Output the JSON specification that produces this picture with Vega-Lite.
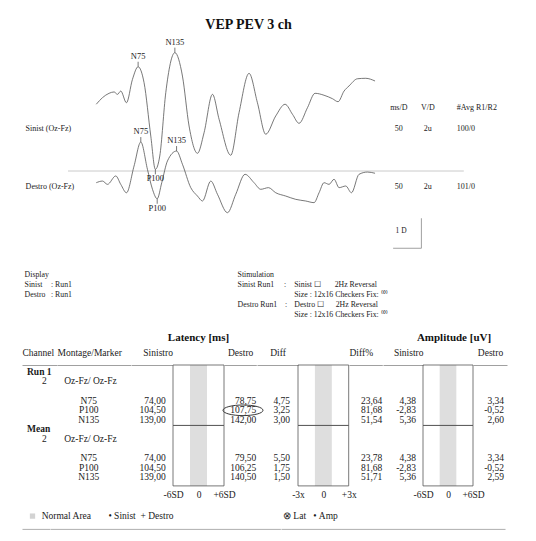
{
 "$schema": "https://vega.github.io/schema/vega-lite/v6.json",
 "background": "white",
 "padding": {"left": 22, "top": 17, "right": 2, "bottom": 2},
 "spacing": 0,
 "config": {
  "view": {"stroke": null},
  "font": "Liberation Serif",
  "text": {"font": "Liberation Serif", "color": "#1a1a1a"},
  "axis": {"labelFont": "Liberation Serif", "titleFont": "Liberation Serif", "grid": false},
  "title": {"font": "Liberation Serif", "color": "#111"}
 },
 "datasets": {
  "channels": [
   {"channel": "Sinist (Oz-Fz)", "offset": 8.83, "msD": "50", "VD": "2u", "avg": "100/0"},
   {"channel": "Destro (Oz-Fz)", "offset": 4.93, "msD": "50", "VD": "2u", "avg": "101/0"}
  ],
  "infoCols": [{"col": "ms/D"}, {"col": "V/D"}, {"col": "#Avg R1/R2"}],
  "traces": [
   {"channel":"Sinist","t":0,"v":10.45},{"channel":"Sinist","t":11,"v":10.89},{"channel":"Sinist","t":22.6,"v":11.18},{"channel":"Sinist","t":31.5,"v":11.27},{"channel":"Sinist","t":37.5,"v":11.11},{"channel":"Sinist","t":43.3,"v":11.33},{"channel":"Sinist","t":53.4,"v":10.55},{"channel":"Sinist","t":64,"v":12.11},{"channel":"Sinist","t":74,"v":12.95},{"channel":"Sinist","t":84.5,"v":11.89},{"channel":"Sinist","t":96.4,"v":8.33},{"channel":"Sinist","t":104.5,"v":6.11},{"channel":"Sinist","t":112.3,"v":7.0},{"channel":"Sinist","t":122.9,"v":11.22},{"channel":"Sinist","t":139,"v":13.89},{"channel":"Sinist","t":152.4,"v":12.33},{"channel":"Sinist","t":164.1,"v":9.0},{"channel":"Sinist","t":179,"v":7.18},{"channel":"Sinist","t":190.6,"v":8.55},{"channel":"Sinist","t":205.5,"v":11.11},{"channel":"Sinist","t":217.2,"v":9.45},{"channel":"Sinist","t":237.8,"v":7.05},{"channel":"Sinist","t":252.5,"v":9.89},{"channel":"Sinist","t":270.2,"v":12.51},{"channel":"Sinist","t":285,"v":10.55},{"channel":"Sinist","t":299.7,"v":8.45},{"channel":"Sinist","t":317.4,"v":9.67},{"channel":"Sinist","t":333.9,"v":10.45},{"channel":"Sinist","t":347,"v":9.78},{"channel":"Sinist","t":358.6,"v":9.18},{"channel":"Sinist","t":373.5,"v":10.22},{"channel":"Sinist","t":386.9,"v":11.18},{"channel":"Sinist","t":402.8,"v":11.05},{"channel":"Sinist","t":417.7,"v":10.82},{"channel":"Sinist","t":427.6,"v":10.62},{"channel":"Sinist","t":438.2,"v":11.33},{"channel":"Sinist","t":447,"v":11.67},{"channel":"Sinist","t":461.9,"v":12.15},{"channel":"Sinist","t":476.6,"v":12.18},{"channel":"Sinist","t":493,"v":12.0},
   {"channel":"Destro","t":0,"v":5.22},{"channel":"Destro","t":11,"v":5.33},{"channel":"Destro","t":19.8,"v":5.11},{"channel":"Destro","t":34.5,"v":5.67},{"channel":"Destro","t":43.3,"v":5.11},{"channel":"Destro","t":53.4,"v":4.55},{"channel":"Destro","t":66.8,"v":6.33},{"channel":"Destro","t":78.75,"v":7.93},{"channel":"Destro","t":90.5,"v":6.11},{"channel":"Destro","t":99.4,"v":4.78},{"channel":"Destro","t":107.75,"v":4.15},{"channel":"Destro","t":115.8,"v":5.22},{"channel":"Destro","t":125.9,"v":6.67},{"channel":"Destro","t":142,"v":7.33},{"channel":"Destro","t":152.4,"v":6.45},{"channel":"Destro","t":167.1,"v":4.89},{"channel":"Destro","t":179,"v":4.33},{"channel":"Destro","t":187.8,"v":4.0},{"channel":"Destro","t":202.5,"v":5.33},{"channel":"Destro","t":214.3,"v":4.45},{"channel":"Destro","t":232,"v":3.22},{"channel":"Destro","t":246.7,"v":4.45},{"channel":"Destro","t":263.1,"v":5.78},{"channel":"Destro","t":279,"v":5.22},{"channel":"Destro","t":290.9,"v":4.78},{"channel":"Destro","t":304.5,"v":4.89},{"channel":"Destro","t":317.4,"v":4.55},{"channel":"Destro","t":335.1,"v":4.33},{"channel":"Destro","t":352.8,"v":4.11},{"channel":"Destro","t":370.5,"v":4.0},{"channel":"Destro","t":385.1,"v":3.89},{"channel":"Destro","t":394,"v":4.55},{"channel":"Destro","t":402.8,"v":5.22},{"channel":"Destro","t":411.7,"v":5.11},{"channel":"Destro","t":420.5,"v":5.45},{"channel":"Destro","t":429.4,"v":4.89},{"channel":"Destro","t":441.2,"v":5.0},{"channel":"Destro","t":451.3,"v":4.55},{"channel":"Destro","t":464.7,"v":5.78},{"channel":"Destro","t":479.6,"v":5.93},{"channel":"Destro","t":493,"v":5.85}
  ],
  "peaks": [
   {"channel": "Sinist", "peak": "N75", "latency": 74, "v": 12.95},
   {"channel": "Sinist", "peak": "P100", "latency": 104.5, "v": 6.11},
   {"channel": "Sinist", "peak": "N135", "latency": 139, "v": 13.89},
   {"channel": "Destro", "peak": "N75", "latency": 78.75, "v": 7.93},
   {"channel": "Destro", "peak": "P100", "latency": 107.75, "v": 4.15},
   {"channel": "Destro", "peak": "N135", "latency": 142, "v": 7.33}
  ],
  "display": [
   {"row": "h", "k": "Display"},
   {"row": "1", "k": "Sinist", "v": ": Run1"},
   {"row": "2", "k": "Destro", "v": ": Run1"}
  ],
  "stim": [
   {"row": "h", "k": "Stimulation"},
   {"row": "1", "k": "Sinist Run1\u00a0\u00a0\u00a0\u00a0\u00a0:", "d": "Sinist\u00a0☐\u00a0\u00a0\u00a0\u00a0\u00a0\u00a0\u00a02Hz Reversal"},
   {"row": "2", "d": "Size : 12x16 Checkers Fix: ⁽⁰⁾"},
   {"row": "3", "k": "Destro Run1\u00a0\u00a0\u00a0\u00a0:", "d": "Destro\u00a0☐\u00a0\u00a0\u00a0\u00a0\u00a0\u00a02Hz Reversal"},
   {"row": "4", "d": "Size : 12x16 Checkers Fix: ⁽⁰⁾"}
  ],
  "table": [
   {"row": "r1s", "sec": "Run 1"},
   {"row": "r1m", "ch": "2", "montage": "Oz-Fz/ Oz-Fz"},
   {"row": "r1a", "marker": "N75", "latS": "74,00", "latD": "78,75", "diff": "4,75", "diffPct": "23,64", "ampS": "4,38", "ampD": "3,34"},
   {"row": "r1b", "marker": "P100", "latS": "104,50", "latD": "107,75", "diff": "3,25", "diffPct": "81,68", "ampS": "-2,83", "ampD": "-0,52", "flag": true},
   {"row": "r1c", "marker": "N135", "latS": "139,00", "latD": "142,00", "diff": "3,00", "diffPct": "51,54", "ampS": "5,36", "ampD": "2,60"},
   {"row": "ms", "sec": "Mean"},
   {"row": "mm", "ch": "2", "montage": "Oz-Fz/ Oz-Fz"},
   {"row": "ma", "marker": "N75", "latS": "74,00", "latD": "79,50", "diff": "5,50", "diffPct": "23,78", "ampS": "4,38", "ampD": "3,34"},
   {"row": "mb", "marker": "P100", "latS": "104,50", "latD": "106,25", "diff": "1,75", "diffPct": "81,68", "ampS": "-2,83", "ampD": "-0,52"},
   {"row": "mc", "marker": "N135", "latS": "139,00", "latD": "140,50", "diff": "1,50", "diffPct": "51,71", "ampS": "5,36", "ampD": "2,59"}
  ],
  "sections": [{"section": "Run 1"}, {"section": "Mean"}],
  "legendItems": [
   {"group": "area", "text": "Normal Area"},
   {"group": "eye", "text": "•\u00a0Sinist\u00a0\u00a0+\u00a0Destro"},
   {"group": "marker", "text": "⊗\u00a0Lat\u00a0\u00a0\u00a0•\u00a0Amp"}
  ]
 },
 "vconcat": [
  {
   "hconcat": [
    {
     "width": 45.2, "height": 216,
     "data": {"name": "channels"},
     "mark": {"type": "text", "align": "left", "baseline": "middle", "fontSize": 8},
     "encoding": {
      "x": {"datum": "label", "type": "nominal", "scale": {"type": "point", "domain": ["label"], "padding": 0, "align": 0.08}, "axis": null},
      "y": {"field": "offset", "type": "quantitative", "scale": {"domain": [0, 14.4], "nice": false, "zero": false}, "axis": null},
      "text": {"field": "channel"}
     }
    },
    {
     "width": 311, "height": 216,
     "title": {"text": "VEP  PEV 3 ch", "anchor": "middle", "dx": 25, "offset": 6, "fontSize": 14, "fontWeight": "bold", "font": "Liberation Serif", "color": "#111"},
     "layer": [
      {"data": {"values": [{}]}, "mark": {"type": "rule", "color": "#bdbdbd", "strokeWidth": 0.8},
       "encoding": {"y": {"datum": 6, "type": "quantitative", "scale": {"domain": [0, 14.4], "nice": false, "zero": false}, "axis": null}}},
      {"data": {"name": "traces"}, "mark": {"type": "line", "color": "#555", "strokeWidth": 0.8, "interpolate": "monotone"},
       "encoding": {
        "x": {"field": "t", "type": "quantitative", "scale": {"domain": [-50, 500], "nice": false, "zero": false}, "axis": null},
        "y": {"field": "v", "type": "quantitative", "scale": {"domain": [0, 14.4], "nice": false, "zero": false}, "axis": null},
        "detail": {"field": "channel"}
       }},
      {"data": {"name": "peaks"}, "transform": [{"filter": "datum.peak != 'P100'"}],
       "mark": {"type": "point", "shape": "M0,0L0,-1", "size": 100, "filled": false, "color": "#555", "strokeWidth": 0.8, "opacity": 1},
       "encoding": {"x": {"field": "latency", "type": "quantitative"}, "y": {"field": "v", "type": "quantitative"}}},
      {"data": {"name": "peaks"}, "transform": [{"filter": "datum.peak == 'P100'"}],
       "mark": {"type": "point", "shape": "M0,0L0,1", "size": 100, "filled": false, "color": "#555", "strokeWidth": 0.8, "opacity": 1},
       "encoding": {"x": {"field": "latency", "type": "quantitative"}, "y": {"field": "v", "type": "quantitative"}}},
      {"data": {"name": "peaks"}, "transform": [{"filter": "datum.peak != 'P100'"}],
       "mark": {"type": "text", "baseline": "alphabetic", "dy": -8, "fontSize": 8.5},
       "encoding": {"x": {"field": "latency", "type": "quantitative"}, "y": {"field": "v", "type": "quantitative"}, "text": {"field": "peak"}}},
      {"data": {"name": "peaks"}, "transform": [{"filter": "datum.peak == 'P100'"}],
       "mark": {"type": "text", "baseline": "top", "dy": 5, "fontSize": 8.5},
       "encoding": {"x": {"field": "latency", "type": "quantitative"}, "y": {"field": "v", "type": "quantitative"}, "text": {"field": "peak"}}}
     ]
    },
    {
     "width": 84.8, "height": 216,
     "layer": [
      {"data": {"values": [{}]}, "mark": {"type": "rule", "color": "#bdbdbd", "strokeWidth": 0.8},
       "encoding": {"y": {"datum": 6, "type": "quantitative", "scale": {"domain": [0, 14.4], "nice": false, "zero": false}, "axis": null}}},
      {
       "layer": [
        {"data": {"name": "infoCols"}, "transform": [{"filter": "datum.col != '#Avg R1/R2'"}],
         "mark": {"type": "text", "align": "center", "fontSize": 8},
         "encoding": {
          "x": {"field": "col", "type": "nominal", "scale": {"type": "point", "domain": ["ms/D", "V/D", "#Avg R1/R2"], "padding": 0.462, "align": 0.739}, "axis": null},
          "y": {"datum": 10.2, "type": "quantitative"},
          "text": {"field": "col"}
         }},
        {"data": {"name": "infoCols"}, "transform": [{"filter": "datum.col == '#Avg R1/R2'"}],
         "mark": {"type": "text", "align": "left", "fontSize": 8},
         "encoding": {"x": {"field": "col", "type": "nominal"}, "y": {"datum": 10.2, "type": "quantitative"}, "text": {"field": "col"}}},
        {"data": {"name": "channels"}, "mark": {"type": "text", "align": "center", "fontSize": 8},
         "encoding": {"x": {"datum": "ms/D", "type": "nominal"}, "y": {"field": "offset", "type": "quantitative"}, "text": {"field": "msD"}}},
        {"data": {"name": "channels"}, "mark": {"type": "text", "align": "center", "fontSize": 8},
         "encoding": {"x": {"datum": "V/D", "type": "nominal"}, "y": {"field": "offset", "type": "quantitative"}, "text": {"field": "VD"}}},
        {"data": {"name": "channels"}, "mark": {"type": "text", "align": "left", "fontSize": 8},
         "encoding": {"x": {"datum": "#Avg R1/R2", "type": "nominal"}, "y": {"field": "offset", "type": "quantitative"}, "text": {"field": "avg"}}}
       ]
      },
      {
       "data": {"values": [{}]},
       "layer": [
        {"mark": {"type": "rule", "color": "#888", "strokeWidth": 0.8},
         "encoding": {"x": {"datum": 575, "type": "quantitative", "scale": {"domain": [500, 650], "nice": false, "zero": false}, "axis": null},
                      "y": {"datum": 0.85, "type": "quantitative"}, "y2": {"datum": 2.85}}},
        {"mark": {"type": "rule", "color": "#888", "strokeWidth": 0.8},
         "encoding": {"x": {"datum": 525, "type": "quantitative"}, "x2": {"datum": 575}, "y": {"datum": 0.85, "type": "quantitative"}}},
        {"mark": {"type": "text", "fontSize": 7.5, "align": "center"},
         "encoding": {"x": {"datum": 539, "type": "quantitative"}, "y": {"datum": 2.0, "type": "quantitative"}, "text": {"value": "1 D"}}}
       ]
      }
     ],
     "resolve": {"scale": {"x": "independent"}}
    }
   ],
   "spacing": 0, "bounds": "flush"
  },
  {
   "hconcat": [
    {
     "width": 38, "height": 69.3,
     "data": {"name": "display"},
     "encoding": {"y": {"field": "row", "type": "nominal", "scale": {"type": "band", "domain": ["h", "1", "2", "3", "4"], "paddingInner": 0, "paddingOuter": 1, "align": 0.457}, "axis": null}},
     "layer": [
      {"transform": [{"filter": "isValid(datum.k)"}], "mark": {"type": "text", "align": "left", "fontSize": 7.8},
       "encoding": {"x": {"datum": "k", "type": "nominal", "scale": {"type": "point", "domain": ["k", "v"], "padding": 0.22, "align": 0.224}, "axis": null}, "text": {"field": "k"}}},
      {"transform": [{"filter": "isValid(datum.v)"}], "mark": {"type": "text", "align": "left", "fontSize": 7.8},
       "encoding": {"x": {"datum": "v", "type": "nominal"}, "text": {"field": "v"}}}
     ]
    },
    {
     "width": 170, "height": 69.3,
     "data": {"name": "stim"},
     "encoding": {"y": {"field": "row", "type": "nominal", "scale": {"type": "band", "domain": ["h", "1", "2", "3", "4"], "paddingInner": 0, "paddingOuter": 1, "align": 0.457}, "axis": null}},
     "layer": [
      {"transform": [{"filter": "isValid(datum.k)"}], "mark": {"type": "text", "align": "left", "fontSize": 7.8},
       "encoding": {"x": {"datum": "k", "type": "nominal", "scale": {"type": "point", "domain": ["k", "d"], "padding": 1, "align": 0.0053}, "axis": null}, "text": {"field": "k"}}},
      {"transform": [{"filter": "isValid(datum.d)"}], "mark": {"type": "text", "align": "left", "fontSize": 7.8},
       "encoding": {"x": {"datum": "d", "type": "nominal"}, "text": {"field": "d"}}}
     ]
    }
   ],
   "spacing": 177, "bounds": "flush"
  },
  {
   "hconcat": [
    {
     "width": 34.8, "height": 120.9,
     "data": {"name": "table"},
     "encoding": {"y": {"field": "row", "type": "nominal", "scale": {"type": "band", "domain": ["r1s","r1m","r1g","r1a","r1b","r1c","ms","mm","mg","ma","mb","mc"], "paddingInner": 0, "paddingOuter": 0.297, "align": 0.368}, "axis": null}},
     "layer": [
      {"transform": [{"filter": "isValid(datum.sec)"}], "mark": {"type": "text", "align": "left", "fontSize": 9.5, "fontWeight": "bold"},
       "encoding": {"x": {"datum": "sec", "type": "nominal", "scale": {"type": "point", "domain": ["sec", "ch"], "padding": 0.5, "align": 0.287},
         "axis": {"orient": "top", "title": "Channel", "titleAnchor": "start", "titleAlign": "left", "titleFontWeight": "normal", "titleFontSize": 9.5, "titleColor": "#1a1a1a", "titlePadding": 7.5, "labels": false, "ticks": false, "domain": true, "domainColor": "#888", "domainWidth": 0.8, "grid": false}},
        "text": {"field": "sec"}}},
      {"transform": [{"filter": "isValid(datum.ch)"}], "mark": {"type": "text", "align": "center", "fontSize": 9.5},
       "encoding": {"x": {"datum": "ch", "type": "nominal"}, "text": {"field": "ch"}}}
     ]
    },
    {
     "width": 73.5, "height": 120.9,
     "data": {"name": "table"},
     "encoding": {"y": {"field": "row", "type": "nominal", "scale": {"type": "band", "domain": ["r1s","r1m","r1g","r1a","r1b","r1c","ms","mm","mg","ma","mb","mc"], "paddingInner": 0, "paddingOuter": 0.297, "align": 0.368}, "axis": null}},
     "layer": [
      {"transform": [{"filter": "isValid(datum.montage)"}], "mark": {"type": "text", "align": "left", "fontSize": 9.5},
       "encoding": {"x": {"datum": "montage", "type": "nominal", "scale": {"type": "point", "domain": ["montage", "marker"], "padding": 1, "align": 0.147},
         "axis": {"orient": "top", "title": "Montage/Marker", "titleAnchor": "start", "titleAlign": "left", "titleFontWeight": "normal", "titleFontSize": 9.5, "titleColor": "#1a1a1a", "titlePadding": 7.5, "labels": false, "ticks": false, "domain": true, "domainColor": "#888", "domainWidth": 0.8, "grid": false}},
        "text": {"field": "montage"}}},
      {"transform": [{"filter": "isValid(datum.marker)"}], "mark": {"type": "text", "align": "center", "fontSize": 9.5},
       "encoding": {"x": {"datum": "marker", "type": "nominal"}, "text": {"field": "marker"}}}
     ]
    },
    {
     "width": 41.4, "height": 120.9,
     "data": {"name": "table"},
     "transform": [{"filter": "isValid(datum.latS)"}],
     "mark": {"type": "text", "align": "right", "fontSize": 9.5},
     "encoding": {
      "x": {"datum": "latS", "type": "nominal", "scale": {"type": "point", "domain": ["latS"], "padding": 0, "align": 0.838},
        "axis": {"orient": "top", "title": "Sinistro", "titleAnchor": "end", "titleAlign": "right", "titleFontWeight": "normal", "titleFontSize": 9.5, "titleColor": "#1a1a1a", "titlePadding": 7.5, "labels": false, "ticks": false, "domain": true, "domainColor": "#888", "domainWidth": 0.8, "grid": false}},
      "y": {"field": "row", "type": "nominal", "scale": {"type": "band", "domain": ["r1s","r1m","r1g","r1a","r1b","r1c","ms","mm","mg","ma","mb","mc"], "paddingInner": 0, "paddingOuter": 0.297, "align": 0.368}, "axis": null},
      "text": {"field": "latS"}
     }
    },
    {
     "width": 51, "height": 120.9,
     "data": {"name": "sections"},
     "title": {"text": "Latency [ms]", "anchor": "middle", "offset": 22, "fontSize": 11, "fontWeight": "bold", "font": "Liberation Serif", "color": "#111"},
     "encoding": {"y": {"field": "section", "type": "nominal", "scale": {"type": "band", "domain": ["Run 1", "Mean"], "paddingInner": 0, "paddingOuter": 0}, "axis": null}},
     "layer": [
      {"mark": {"type": "rect", "color": "#dedede"},
       "encoding": {"x": {"datum": -2, "type": "quantitative", "scale": {"domain": [-6, 6], "nice": false, "zero": false},
         "axis": {"orient": "bottom", "values": [-6, 0, 6], "tickCount": 5, "labelExpr": "(datum.value > 0 ? '+' : '') + datum.value + (datum.value == 0 ? '' : 'SD')", "domain": false, "ticks": false, "grid": false, "title": null, "labelPadding": 4, "labelFontSize": 9.5, "labelColor": "#1a1a1a", "labelFlush": false, "labelOverlap": false}},
        "x2": {"datum": 2}}},
      {"mark": {"type": "rect", "fill": "white", "fillOpacity": 0, "stroke": "#555", "strokeWidth": 0.8},
       "encoding": {"x": {"datum": -6, "type": "quantitative"}, "x2": {"datum": 6}}}
     ]
    },
    {
     "width": 32.3, "height": 120.9,
     "data": {"name": "table"},
     "encoding": {
      "x": {"datum": "latD", "type": "nominal", "scale": {"type": "point", "domain": ["latD"], "padding": 0, "align": 1},
        "axis": {"orient": "top", "title": "Destro", "titleAnchor": "middle", "titleAlign": "center", "titleFontWeight": "normal", "titleFontSize": 9.5, "titleColor": "#1a1a1a", "titlePadding": 7.5, "labels": false, "ticks": false, "domain": true, "domainColor": "#888", "domainWidth": 0.8, "grid": false}},
      "y": {"field": "row", "type": "nominal", "scale": {"type": "band", "domain": ["r1s","r1m","r1g","r1a","r1b","r1c","ms","mm","mg","ma","mb","mc"], "paddingInner": 0, "paddingOuter": 0.297, "align": 0.368}, "axis": null}
     },
     "layer": [
      {"transform": [{"filter": "isValid(datum.latD)"}], "mark": {"type": "text", "align": "right", "fontSize": 9.5},
       "encoding": {"text": {"field": "latD"}}},
      {"transform": [{"filter": "datum.flag === true"}],
       "mark": {"type": "point", "shape": "M-1.665,0A1,0.265,0,1,1,0.335,0A1,0.265,0,1,1,-1.665,0Z", "size": 1600, "filled": false, "color": "#222", "strokeWidth": 0.9, "opacity": 1},
       "encoding": {}}
     ]
    },
    {
     "width": 41, "height": 120.9,
     "data": {"name": "table"},
     "transform": [{"filter": "isValid(datum.diff)"}],
     "mark": {"type": "text", "align": "right", "fontSize": 9.5},
     "encoding": {
      "x": {"datum": "diff", "type": "nominal", "scale": {"type": "point", "domain": ["diff"], "padding": 0, "align": 0.805},
        "axis": {"orient": "top", "title": "Diff", "titleAnchor": "middle", "titleAlign": "center", "titleFontWeight": "normal", "titleFontSize": 9.5, "titleColor": "#1a1a1a", "titlePadding": 7.5, "labels": false, "ticks": false, "domain": true, "domainColor": "#888", "domainWidth": 0.8, "grid": false}},
      "y": {"field": "row", "type": "nominal", "scale": {"type": "band", "domain": ["r1s","r1m","r1g","r1a","r1b","r1c","ms","mm","mg","ma","mb","mc"], "paddingInner": 0, "paddingOuter": 0.297, "align": 0.368}, "axis": null},
      "text": {"field": "diff"}
     }
    },
    {
     "width": 50.7, "height": 120.9,
     "data": {"name": "sections"},
     "encoding": {"y": {"field": "section", "type": "nominal", "scale": {"type": "band", "domain": ["Run 1", "Mean"], "paddingInner": 0, "paddingOuter": 0}, "axis": null}},
     "layer": [
      {"mark": {"type": "rect", "color": "#dedede"},
       "encoding": {"x": {"datum": -1, "type": "quantitative", "scale": {"domain": [-3, 3], "nice": false, "zero": false},
         "axis": {"orient": "bottom", "values": [-3, 0, 3], "tickCount": 5, "labelExpr": "(datum.value > 0 ? '+' : '') + datum.value + (datum.value == 0 ? '' : 'x')", "domain": false, "ticks": false, "grid": false, "title": null, "labelPadding": 4, "labelFontSize": 9.5, "labelColor": "#1a1a1a", "labelFlush": false, "labelOverlap": false}},
        "x2": {"datum": 1}}},
      {"mark": {"type": "rect", "fill": "white", "fillOpacity": 0, "stroke": "#555", "strokeWidth": 0.8},
       "encoding": {"x": {"datum": -3, "type": "quantitative"}, "x2": {"datum": 3}}}
     ]
    },
    {
     "width": 33.3, "height": 120.9,
     "data": {"name": "table"},
     "transform": [{"filter": "isValid(datum.diffPct)"}],
     "mark": {"type": "text", "align": "right", "fontSize": 9.5},
     "encoding": {
      "x": {"datum": "diffPct", "type": "nominal", "scale": {"type": "point", "domain": ["diffPct"], "padding": 0, "align": 1},
        "axis": {"orient": "top", "title": "Diff%", "titleAnchor": "start", "titleAlign": "left", "titleFontWeight": "normal", "titleFontSize": 9.5, "titleColor": "#1a1a1a", "titlePadding": 7.5, "labels": false, "ticks": false, "domain": true, "domainColor": "#888", "domainWidth": 0.8, "grid": false}},
      "y": {"field": "row", "type": "nominal", "scale": {"type": "band", "domain": ["r1s","r1m","r1g","r1a","r1b","r1c","ms","mm","mg","ma","mb","mc"], "paddingInner": 0, "paddingOuter": 0.297, "align": 0.368}, "axis": null},
      "text": {"field": "diffPct"}
     }
    },
    {
     "width": 40, "height": 120.9,
     "data": {"name": "table"},
     "transform": [{"filter": "isValid(datum.ampS)"}],
     "mark": {"type": "text", "align": "right", "fontSize": 9.5},
     "encoding": {
      "x": {"datum": "ampS", "type": "nominal", "scale": {"type": "point", "domain": ["ampS"], "padding": 0, "align": 0.825},
        "axis": {"orient": "top", "title": "Sinistro", "titleAnchor": "end", "titleAlign": "right", "titleFontWeight": "normal", "titleFontSize": 9.5, "titleColor": "#1a1a1a", "titlePadding": 7.5, "labels": false, "ticks": false, "domain": true, "domainColor": "#888", "domainWidth": 0.8, "grid": false}},
      "y": {"field": "row", "type": "nominal", "scale": {"type": "band", "domain": ["r1s","r1m","r1g","r1a","r1b","r1c","ms","mm","mg","ma","mb","mc"], "paddingInner": 0, "paddingOuter": 0.297, "align": 0.368}, "axis": null},
      "text": {"field": "ampS"}
     }
    },
    {
     "width": 50, "height": 120.9,
     "data": {"name": "sections"},
     "title": {"text": "Amplitude [uV]", "anchor": "middle", "dx": 6, "offset": 22, "fontSize": 11, "fontWeight": "bold", "font": "Liberation Serif", "color": "#111"},
     "encoding": {"y": {"field": "section", "type": "nominal", "scale": {"type": "band", "domain": ["Run 1", "Mean"], "paddingInner": 0, "paddingOuter": 0}, "axis": null}},
     "layer": [
      {"mark": {"type": "rect", "color": "#dedede"},
       "encoding": {"x": {"datum": -2, "type": "quantitative", "scale": {"domain": [-6, 6], "nice": false, "zero": false},
         "axis": {"orient": "bottom", "values": [-6, 0, 6], "tickCount": 5, "labelExpr": "(datum.value > 0 ? '+' : '') + datum.value + (datum.value == 0 ? '' : 'SD')", "domain": false, "ticks": false, "grid": false, "title": null, "labelPadding": 4, "labelFontSize": 9.5, "labelColor": "#1a1a1a", "labelFlush": false, "labelOverlap": false}},
        "x2": {"datum": 2}}},
      {"mark": {"type": "rect", "fill": "white", "fillOpacity": 0, "stroke": "#555", "strokeWidth": 0.8},
       "encoding": {"x": {"datum": -6, "type": "quantitative"}, "x2": {"datum": 6}}}
     ]
    },
    {
     "width": 34, "height": 120.9,
     "data": {"name": "table"},
     "transform": [{"filter": "isValid(datum.ampD)"}],
     "mark": {"type": "text", "align": "right", "fontSize": 9.5},
     "encoding": {
      "x": {"datum": "ampD", "type": "nominal", "scale": {"type": "point", "domain": ["ampD"], "padding": 0, "align": 0.912},
        "axis": {"orient": "top", "title": "Destro", "titleAnchor": "middle", "titleAlign": "center", "titleFontWeight": "normal", "titleFontSize": 9.5, "titleColor": "#1a1a1a", "titlePadding": 7.5, "labels": false, "ticks": false, "domain": true, "domainColor": "#888", "domainWidth": 0.8, "grid": false}},
      "y": {"field": "row", "type": "nominal", "scale": {"type": "band", "domain": ["r1s","r1m","r1g","r1a","r1b","r1c","ms","mm","mg","ma","mb","mc"], "paddingInner": 0, "paddingOuter": 0.297, "align": 0.368}, "axis": null},
      "text": {"field": "ampD"}
     }
    }
   ],
   "spacing": 0, "bounds": "flush"
  },
  {
   "hconcat": [
    {
     "width": 27.6, "height": 28.9,
     "data": {"name": "legendItems"},
     "transform": [{"filter": "datum.group == 'area'"}],
     "encoding": {"y": {"datum": "row", "type": "nominal", "scale": {"type": "point", "domain": ["row"], "padding": 0, "align": 0.557}, "axis": null}},
     "layer": [
      {"mark": {"type": "point", "shape": "square", "filled": true, "size": 28, "color": "#d3d3d3", "opacity": 1},
       "encoding": {"x": {"datum": "icon", "type": "nominal", "scale": {"type": "point", "domain": ["icon", "label"], "padding": 1, "align": 0.571},
         "axis": {"orient": "bottom", "title": null, "labels": false, "ticks": false, "domain": true, "domainColor": "#999", "domainWidth": 0.8, "grid": false}}}},
      {"mark": {"type": "text", "align": "left", "fontSize": 9.5},
       "encoding": {"x": {"datum": "label", "type": "nominal"}, "text": {"field": "text"}}}
     ]
    },
    {
     "width": 230.4, "height": 28.9,
     "data": {"name": "legendItems"},
     "transform": [{"filter": "datum.group == 'eye'"}],
     "mark": {"type": "text", "align": "left", "fontSize": 9.5},
     "encoding": {
      "x": {"datum": "label", "type": "nominal", "scale": {"type": "point", "domain": ["label"], "padding": 0, "align": 0.2535},
        "axis": {"orient": "bottom", "title": null, "labels": false, "ticks": false, "domain": true, "domainColor": "#999", "domainWidth": 0.8, "grid": false}},
      "y": {"datum": "row", "type": "nominal", "scale": {"type": "point", "domain": ["row"], "padding": 0, "align": 0.557}, "axis": null},
      "text": {"field": "text"}
     }
    },
    {
     "width": 224, "height": 28.9,
     "data": {"name": "legendItems"},
     "transform": [{"filter": "datum.group == 'marker'"}],
     "mark": {"type": "text", "align": "left", "fontSize": 9.5},
     "encoding": {
      "x": {"datum": "label", "type": "nominal", "scale": {"type": "point", "domain": ["label"], "padding": 0, "align": 0.0089},
        "axis": {"orient": "bottom", "title": null, "labels": false, "ticks": false, "domain": true, "domainColor": "#999", "domainWidth": 0.8, "grid": false}},
      "y": {"datum": "row", "type": "nominal", "scale": {"type": "point", "domain": ["row"], "padding": 0, "align": 0.557}, "axis": null},
      "text": {"field": "text"}
     }
    }
   ],
   "spacing": 0, "bounds": "flush"
  }
 ]
}
